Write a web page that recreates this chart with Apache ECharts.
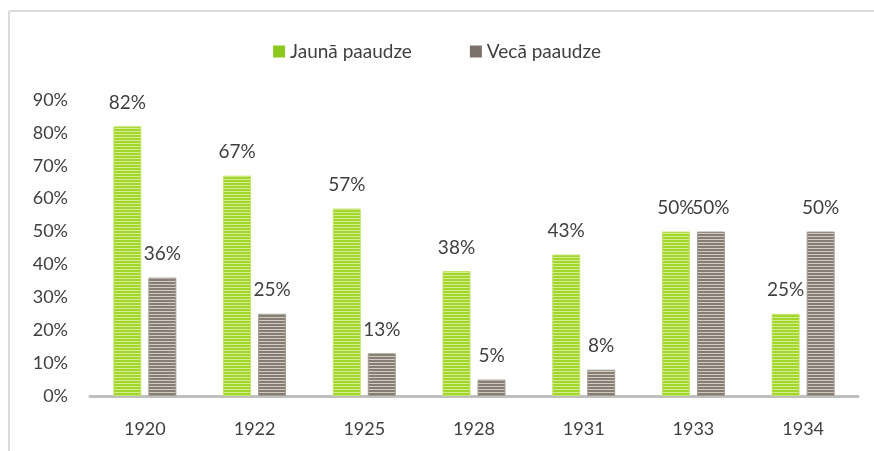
<!DOCTYPE html>
<html>
<head>
<meta charset="utf-8">
<script src="https://cdn.jsdelivr.net/npm/echarts@6/dist/echarts.min.js"></script>
<style>
  html, body { margin: 0; padding: 0; background: #fff; }
  #chart { width: 874px; height: 451px; }
</style>
</head>
<body>
<div id="chart"></div>
<script>
// dati no attēla
var years = ['1920', '1922', '1925', '1928', '1931', '1933', '1934']
var jaunaPaaudze = [82, 67, 57, 38, 43, 50, 25]
var vecaPaaudze = [36, 25, 13, 5, 8, 50, 50]
var seriesNames = ['Jaunā paaudze', 'Vecā paaudze']

// svītrots raksts stabiņiem
function stripes (base, line) {
  var c = document.createElement('canvas')
  c.width = 4
  c.height = 3
  var ctx = c.getContext('2d')
  ctx.fillStyle = base
  ctx.fillRect(0, 0, 4, 3)
  ctx.fillStyle = line
  ctx.fillRect(0, 2, 4, 1)
  return { image: c, repeat: 'repeat' }
}

var font = 'Lato, "Open Sans", sans-serif'
var txt = '#404040'

var myChart = echarts.init(document.getElementById('chart'))
var labelStyle = {
  show: true,
  position: 'top',
  distance: 14,
  formatter: '{c}%',
  color: txt,
  fontSize: 19,
  fontFamily: font
}
var option = {
  animation: false,
  backgroundColor: '#fff',
  graphic: [
    { type: 'line', shape: { x1: 9, y1: 11, x2: 874, y2: 11 }, style: { stroke: '#dcdcdc', lineWidth: 2 } },
    { type: 'line', shape: { x1: 9, y1: 11, x2: 9, y2: 451 }, style: { stroke: '#dcdcdc', lineWidth: 2 } }
  ],
  legend: {
    data: seriesNames,
    top: 37,
    left: 'center',
    itemWidth: 12,
    itemHeight: 12,
    itemGap: 58,
    icon: 'rect',
    textStyle: { color: txt, fontSize: 19, fontFamily: font }
  },
  grid: { left: 90, right: 16, top: 100, bottom: 55, containLabel: false },
  xAxis: {
    type: 'category',
    data: years,
    axisLine: { show: true, lineStyle: { color: '#bfbfbf', width: 3 } },
    axisTick: { show: false },
    axisLabel: { color: txt, fontSize: 18, fontFamily: font, margin: 24 }
  },
  yAxis: {
    type: 'value',
    min: 0,
    max: 90,
    interval: 10,
    splitLine: { show: false },
    axisLine: { show: false },
    axisTick: { show: false },
    axisLabel: { color: txt, fontSize: 18, fontFamily: font, margin: 22, formatter: '{value}%' }
  },
  series: [
    {
      name: seriesNames[0],
      type: 'bar',
      barWidth: 28,
      barGap: '25%',
      data: jaunaPaaudze,
      itemStyle: { color: stripes('#a2d52e', '#d4ee8c'), borderColor: '#c2e46a', borderWidth: 1 },
      label: labelStyle
    },
    {
      name: seriesNames[1],
      type: 'bar',
      barWidth: 28,
      data: vecaPaaudze,
      itemStyle: { color: stripes('#867d73', '#d2cbc3'), borderColor: '#a39b92', borderWidth: 1 },
      label: labelStyle
    }
  ]
}
option && myChart.setOption(option)
// leģendas ikonas bez raksta
myChart.setOption({ legend: { data: [
  { name: seriesNames[0], itemStyle: { color: '#8cc81e', borderWidth: 0 } },
  { name: seriesNames[1], itemStyle: { color: '#7a7168', borderWidth: 0 } }
] } })
</script>
</body>
</html>
